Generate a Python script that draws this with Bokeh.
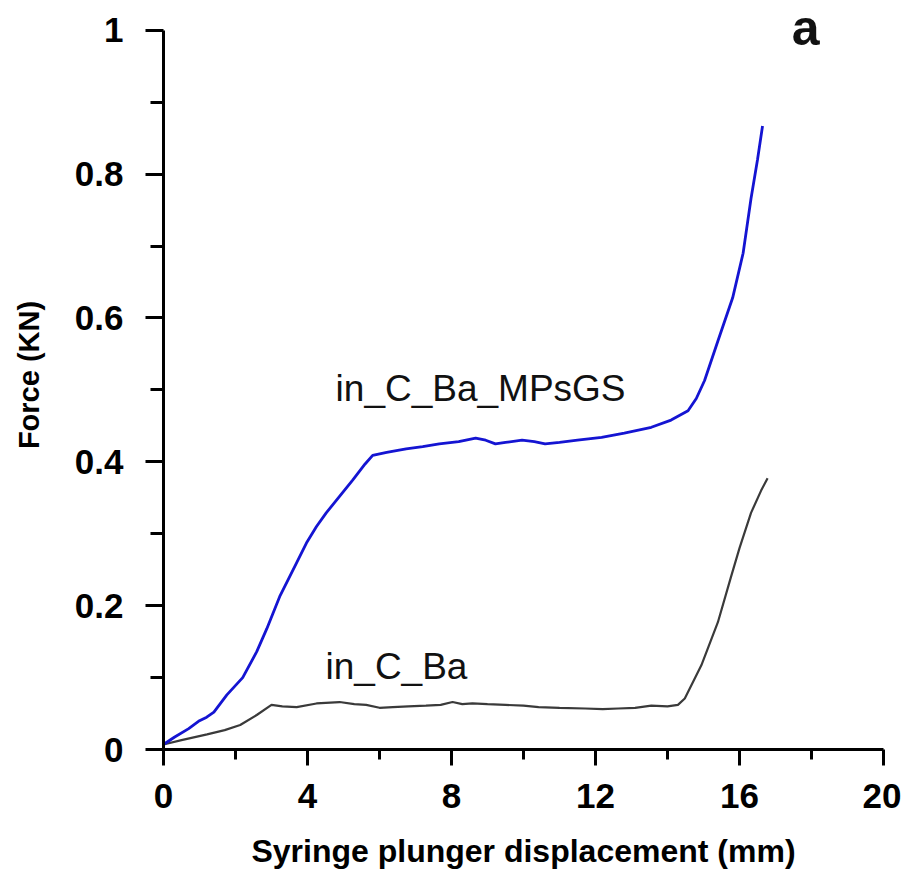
from bokeh.plotting import figure
from bokeh.models import FixedTicker, CustomJSTickFormatter, Label, Range1d
from bokeh.embed import file_html
from bokeh.resources import INLINE

# ---- data ----
blue_x = [0, 0.3, 0.7, 1.0, 1.2, 1.4, 1.76, 2.2, 2.59, 2.87, 3.24, 3.7, 3.97, 4.25, 4.52,
          4.89, 5.26, 5.6, 5.81, 6.2, 6.74, 7.2, 7.66, 8.2, 8.67, 8.95, 9.22, 9.5, 9.96,
          10.3, 10.6, 11.0, 11.5, 12.17, 12.8, 13.55, 14.1, 14.57, 14.8, 15.03, 15.4,
          15.81, 16.1, 16.32, 16.5, 16.64]
blue_y = [0.007, 0.017, 0.029, 0.040, 0.045, 0.052, 0.076, 0.100, 0.136, 0.168, 0.214,
          0.260, 0.287, 0.310, 0.329, 0.352, 0.375, 0.397, 0.409, 0.413, 0.418, 0.421,
          0.425, 0.428, 0.433, 0.430, 0.425, 0.427, 0.430, 0.428, 0.425, 0.427, 0.430,
          0.434, 0.440, 0.448, 0.458, 0.471, 0.488, 0.513, 0.568, 0.628, 0.690, 0.766,
          0.820, 0.867]

black_x = [0, 0.5, 1.21, 1.7, 2.13, 2.59, 3.0, 3.3, 3.7, 4.25, 4.89, 5.3, 5.63, 6.0,
           6.37, 6.8, 7.29, 7.7, 8.03, 8.3, 8.58, 9.0, 9.5, 10.0, 10.42, 11.0, 11.71,
           12.2, 12.63, 13.1, 13.55, 14.0, 14.29, 14.48, 14.94, 15.4, 15.77, 16.0,
           16.32, 16.6, 16.78]
black_y = [0.007, 0.013, 0.021, 0.027, 0.034, 0.048, 0.062, 0.060, 0.059, 0.064, 0.066,
           0.063, 0.062, 0.058, 0.059, 0.060, 0.061, 0.062, 0.066, 0.063, 0.064, 0.063,
           0.062, 0.061, 0.059, 0.058, 0.057, 0.056, 0.057, 0.058, 0.061, 0.060, 0.062,
           0.071, 0.117, 0.177, 0.241, 0.280, 0.329, 0.360, 0.377]

x_ticks = [0, 4, 8, 12, 16, 20]
x_minor = [2, 6, 10, 14, 18]
y_ticks = [0, 0.2, 0.4, 0.6, 0.8, 1.0]
y_minor = [0.1, 0.3, 0.5, 0.7, 0.9]

label_blue = "in_C_Ba_MPsGS"
label_black = "in_C_Ba"
panel_label = "a"

FONT = "Liberation Sans"

p = figure(width=901, height=871, output_backend="svg", toolbar_location=None,
           x_range=Range1d(0, 20), y_range=Range1d(0, 1.0414),
           min_border_left=163, min_border_right=18, min_border_top=0,
           min_border_bottom=116, background_fill_color="white",
           border_fill_color="white")
p.outline_line_color = None
p.xgrid.visible = False
p.ygrid.visible = False

p.line(black_x, black_y, line_color="#3a3a3a", line_width=2.2)
p.line(blue_x, blue_y, line_color="#1414d2", line_width=2.8)

# axes
for ax in (p.xaxis[0], p.yaxis[0]):
    ax.axis_line_width = 3
    ax.axis_line_color = "black"
    ax.major_tick_line_width = 3
    ax.minor_tick_line_width = 3
    ax.major_tick_in = 0
    ax.minor_tick_in = 0
    ax.major_label_text_font = FONT
    ax.major_label_text_font_style = "bold"
    ax.major_label_text_font_size = "35px"
    ax.major_label_text_color = "black"
    ax.axis_label_text_font = FONT
    ax.axis_label_text_font_style = "bold"
    ax.axis_label_text_color = "black"

p.xaxis.ticker = FixedTicker(ticks=x_ticks, minor_ticks=x_minor)
p.xaxis.major_tick_out = 16
p.xaxis.minor_tick_out = 10
p.xaxis.major_label_standoff = 18
p.xaxis.axis_label = "Syringe plunger displacement (mm)"
p.xaxis.axis_label_text_font_size = "32px"
p.xaxis.axis_label_standoff = 22

p.yaxis.ticker = FixedTicker(ticks=y_ticks, minor_ticks=y_minor)
p.yaxis.formatter = CustomJSTickFormatter(code="return String(Math.round(tick*10)/10);")
p.yaxis.bounds = (y_ticks[0], y_ticks[-1])
p.yaxis.major_tick_out = 18
p.yaxis.minor_tick_out = 13
p.yaxis.major_label_standoff = 22
p.yaxis.axis_label = "Force (KN)"
p.yaxis.axis_label_text_font_size = "29px"
p.yaxis.axis_label_standoff = 27

p.add_layout(Label(x=4.78, y=0.502, text=label_blue, text_font=FONT,
                   text_font_size="37px", text_color="#111111",
                   text_baseline="alphabetic"))
p.add_layout(Label(x=4.5, y=0.116, text=label_black, text_font=FONT,
                   text_font_size="37px", text_color="#111111",
                   text_baseline="alphabetic"))
p.add_layout(Label(x=17.45, y=1.003, text=panel_label, text_font=FONT,
                   text_font_size="50px", text_font_style="bold", text_color="#111111",
                   text_baseline="alphabetic"))

open("out.html", "w").write(file_html(p, INLINE))
